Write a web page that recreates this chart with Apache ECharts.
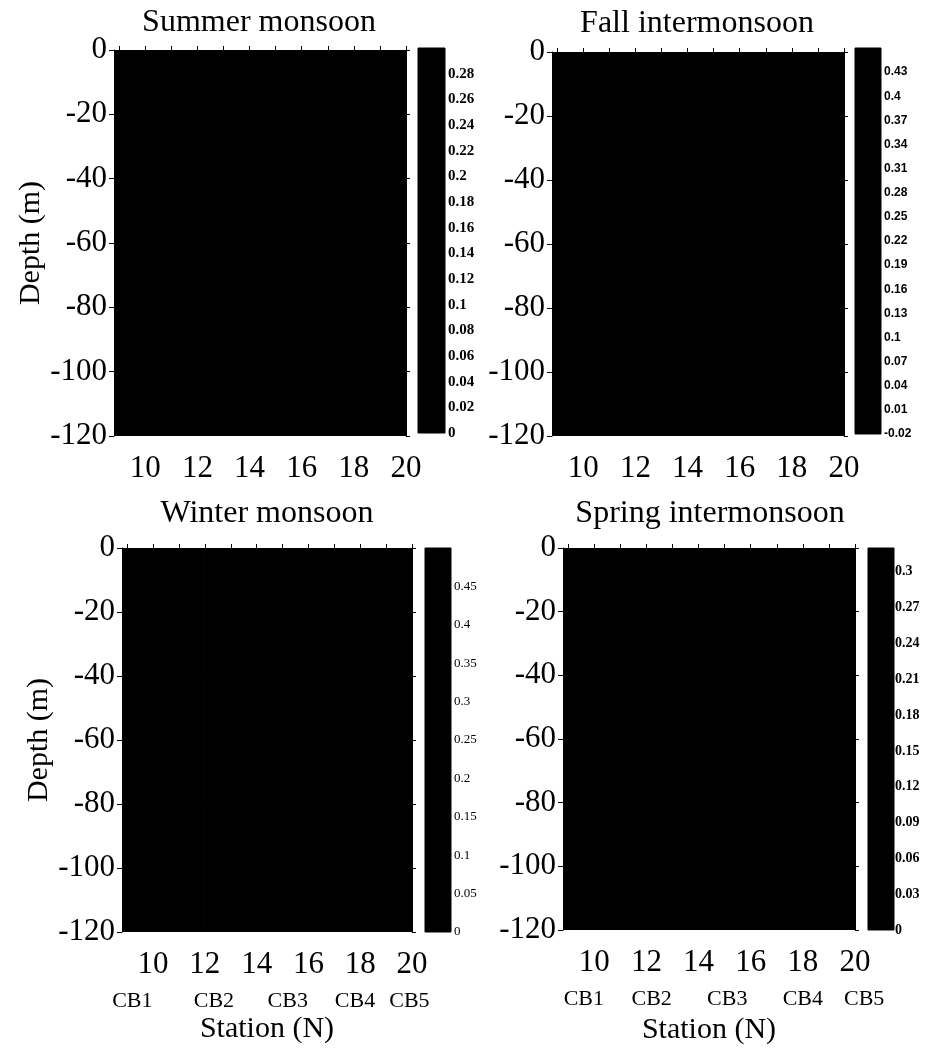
<!DOCTYPE html>
<html>
<head>
<meta charset="utf-8">
<script src="https://cdn.jsdelivr.net/npm/echarts@6/dist/echarts.min.js"></script>
<style>
html,body{margin:0;padding:0;background:#fff;}
#chart{width:933px;height:1050px;}
</style>
</head>
<body>
<div id="chart"></div>
<script>
// ---- data ----
const panelTitles = ['Summer monsoon', 'Fall intermonsoon', 'Winter monsoon', 'Spring intermonsoon'];
const xTickValues = [9, 10, 11, 12, 13, 14, 15, 16, 17, 18, 19, 20];
const xLabelValues = [10, 12, 14, 16, 18, 20];
const stationNames = ['CB1', 'CB2', 'CB3', 'CB4', 'CB5'];
const winterStationLat = [9.2, 12.35, 15.2, 17.8, 19.9];
const springStationLat = [9.6, 12.2, 15.1, 18.0, 20.35];
// contour cell edges (latitude, depth)
const latEdges = [8.8, 12, 16, 20];
const depthEdges = [0, -40, -80, -120];
// estimated cell values (all fall in the darkest colour class)
const summerValues = [[0.22, 0.19, 0.16], [0.12, 0.10, 0.08], [0.05, 0.04, 0.03]];
const fallValues = [[0.35, 0.30, 0.26], [0.18, 0.15, 0.12], [0.07, 0.05, 0.03]];
const winterValues = [[0.40, 0.36, 0.31], [0.22, 0.19, 0.15], [0.09, 0.07, 0.05]];
const springValues = [[0.26, 0.23, 0.20], [0.15, 0.12, 0.10], [0.06, 0.05, 0.03]];
// colour bar levels
const summerLevels = [0, 0.02, 0.04, 0.06, 0.08, 0.1, 0.12, 0.14, 0.16, 0.18, 0.2, 0.22, 0.24, 0.26, 0.28];
const fallLevels = [-0.02, 0.01, 0.04, 0.07, 0.1, 0.13, 0.16, 0.19, 0.22, 0.25, 0.28, 0.31, 0.34, 0.37, 0.4, 0.43];
const winterLevels = [0, 0.05, 0.1, 0.15, 0.2, 0.25, 0.3, 0.35, 0.4, 0.45];
const springLevels = [0, 0.03, 0.06, 0.09, 0.12, 0.15, 0.18, 0.21, 0.24, 0.27, 0.3];
const colorbarRange = [[0, 0.30], [-0.02, 0.46], [0, 0.50], [0, 0.32]];

// ---- layout ----
const X_MIN = 8.8, X_MAX = 20, X_STATION_MAX = 21;
const plotGrids = [
  {left: 114, top: 50, width: 292, height: 386},
  {left: 552, top: 52, width: 292, height: 384},
  {left: 122, top: 548, width: 290, height: 384},
  {left: 563, top: 548, width: 292, height: 382}
];
const barGrids = [
  {left: 418, top: 48, width: 27, height: 385},
  {left: 855, top: 48, width: 26, height: 386},
  {left: 425, top: 548, width: 26, height: 384},
  {left: 868, top: 548, width: 26, height: 382}
];
const titlePos = [[259, 23], [697, 24], [267, 514], [710, 514]];
const barLabelFont = [
  {fontFamily: 'Liberation Serif', fontWeight: 'bold', fontSize: 15, margin: 3},
  {fontFamily: 'Liberation Sans', fontWeight: 'bold', fontSize: 12, margin: 3},
  {fontFamily: 'Liberation Serif', fontWeight: 'normal', fontSize: 13, margin: 3},
  {fontFamily: 'Liberation Serif', fontWeight: 'bold', fontSize: 14, margin: 1}
];
const stationNameGap = [0, 0, 82, 85];

const allValues = [summerValues, fallValues, winterValues, springValues];
const allLevels = [summerLevels, fallLevels, winterLevels, springLevels];
const allStations = [null, null, winterStationLat, springStationLat];
const SERIF = 'Liberation Serif';

function rectItem(params, api) {
  const p0 = api.coord([api.value(0), api.value(2)]);
  const p1 = api.coord([api.value(1), api.value(3)]);
  return {
    type: 'rect',
    shape: {
      x: Math.min(p0[0], p1[0]), y: Math.min(p0[1], p1[1]),
      width: Math.abs(p1[0] - p0[0]), height: Math.abs(p1[1] - p0[1])
    },
    style: {fill: '#000', stroke: '#000', lineWidth: 1}
  };
}

const grid = [], xAxis = [], yAxis = [], series = [], graphic = [];
const fmt = v => String(+(+v).toFixed(2));

for (let i = 0; i < 4; i++) {
  const pg = plotGrids[i];
  const gPlot = grid.length; grid.push(pg);
  const gBar = grid.length; grid.push(barGrids[i]);
  const isBottom = i >= 2, isLeft = i % 2 === 0;

  // main bottom x axis
  const xMainIdx = xAxis.length;
  xAxis.push({
    type: 'value', gridIndex: gPlot, min: X_MIN, max: X_MAX, position: 'bottom',
    axisLine: {lineStyle: {color: '#000', width: 1}},
    axisTick: {show: true, length: 5, customValues: xTickValues, lineStyle: {color: '#000'}},
    axisLabel: {customValues: xLabelValues, color: '#000', fontFamily: SERIF, fontSize: 31, margin: 17},
    splitLine: {show: false},
    name: isBottom ? 'Station (N)' : '', nameLocation: 'middle', nameGap: stationNameGap[i],
    nameTextStyle: {color: '#000', fontFamily: SERIF, fontSize: 30}
  });
  // top x axis (ticks only)
  xAxis.push({
    type: 'value', gridIndex: gPlot, min: X_MIN, max: X_MAX, position: 'top',
    axisLine: {lineStyle: {color: '#000'}},
    axisTick: {show: true, length: 4, customValues: xTickValues, lineStyle: {color: '#000'}},
    axisLabel: {show: false}, splitLine: {show: false}
  });
  if (isBottom) {
    // station label row: same scale as the plot, extended to the right
    const st = allStations[i];
    const gSt = grid.length;
    grid.push({left: pg.left, top: pg.top, height: pg.height,
      width: pg.width * (X_STATION_MAX - X_MIN) / (X_MAX - X_MIN)});
    xAxis.push({
      type: 'value', gridIndex: gSt, min: X_MIN, max: X_STATION_MAX, position: 'bottom', offset: 54,
      axisLine: {show: false}, axisTick: {show: false}, splitLine: {show: false},
      axisLabel: {
        customValues: st, color: '#000', fontFamily: SERIF, fontSize: 22, margin: 4,
        formatter: v => stationNames[st.indexOf(+v)] || ''
      }
    });
    yAxis.push({type: 'value', gridIndex: gSt, show: false});
  }
  const yMainIdx = yAxis.length;
  yAxis.push({
    type: 'value', gridIndex: gPlot, min: -120, max: 0, interval: 20, position: 'left',
    axisLine: {show: true, lineStyle: {color: '#000'}},
    axisTick: {show: true, length: 5, lineStyle: {color: '#000'}},
    axisLabel: {color: '#000', fontFamily: SERIF, fontSize: 31, margin: 7},
    splitLine: {show: false},
    name: isLeft ? 'Depth (m)' : '', nameLocation: 'middle', nameGap: 68,
    nameTextStyle: {color: '#000', fontFamily: SERIF, fontSize: 30}
  });
  yAxis.push({
    type: 'value', gridIndex: gPlot, min: -120, max: 0, interval: 20, position: 'right',
    axisLine: {show: true, lineStyle: {color: '#000'}},
    axisTick: {show: true, length: 4, lineStyle: {color: '#000'}},
    axisLabel: {show: false}, splitLine: {show: false}
  });

  // contour cells
  const cells = [];
  const vals = allValues[i];
  for (let r = 0; r < depthEdges.length - 1; r++) {
    for (let c = 0; c < latEdges.length - 1; c++) {
      cells.push([latEdges[c], latEdges[c + 1], depthEdges[r], depthEdges[r + 1], vals[r][c]]);
    }
  }
  series.push({
    type: 'custom', xAxisIndex: xMainIdx, yAxisIndex: yMainIdx,
    renderItem: rectItem, data: cells, clip: true,
    encode: {x: [0, 1], y: [2, 3]}, silent: true
  });

  // colour bar
  const cbX = xAxis.length;
  xAxis.push({type: 'value', gridIndex: gBar, min: 0, max: 1, show: false});
  const cbY = yAxis.length;
  const rng = colorbarRange[i];
  yAxis.push({
    type: 'value', gridIndex: gBar, min: rng[0], max: rng[1], position: 'right',
    axisLine: {show: false}, axisTick: {show: false}, splitLine: {show: false},
    axisLabel: Object.assign({customValues: allLevels[i], color: '#000', formatter: fmt}, barLabelFont[i])
  });
  series.push({
    type: 'custom', xAxisIndex: cbX, yAxisIndex: cbY,
    renderItem: rectItem, data: [[0, 1, rng[0], rng[1], rng[1]]],
    encode: {x: [0, 1], y: [2, 3]}, silent: true
  });

  graphic.push({
    type: 'text', x: titlePos[i][0], y: titlePos[i][1],
    style: {text: panelTitles[i], fill: '#000', font: '32px "Liberation Serif"', align: 'center', verticalAlign: 'middle'}
  });
}

const chart = echarts.init(document.getElementById('chart'), null, {renderer: 'canvas'});
chart.setOption({
  backgroundColor: '#fff',
  animation: false,
  grid, xAxis, yAxis, series, graphic
});
</script>
</body>
</html>
